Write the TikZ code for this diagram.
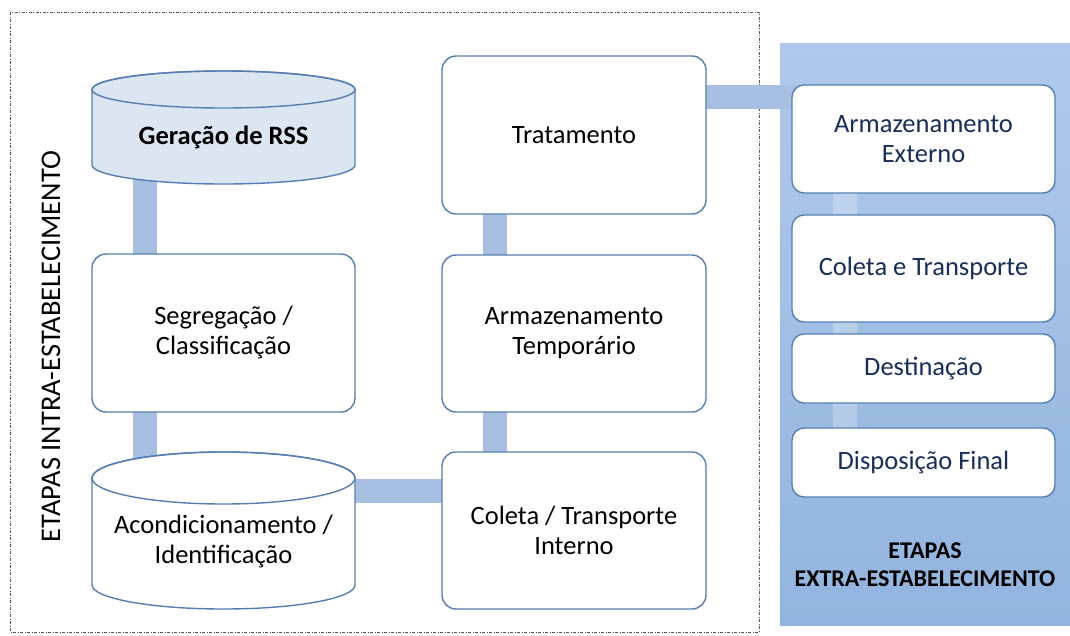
\documentclass[tikz,border=0pt]{standalone}
\usepackage{fontspec}
\setmainfont{Carlito}
\definecolor{boxline}{RGB}{84,126,178}
\definecolor{conncol}{RGB}{167,192,226}
\definecolor{paneltop}{RGB}{176,201,234}
\definecolor{panelbot}{RGB}{146,180,222}
\definecolor{gerfill}{RGB}{220,230,242}
\definecolor{navy}{RGB}{23,45,90}
\definecolor{frame}{RGB}{85,85,85}
\pgfdeclarelayer{panel}
\pgfdeclarelayer{links}
\pgfsetlayers{panel,links,main}
\begin{document}
\begin{tikzpicture}[x=1pt,y=-1pt,
  lbl/.style={align=center, font=\fontsize{26.5}{30}\selectfont, inner sep=0pt},
  box/.style={lbl, draw=boxline, line width=1.4pt, fill=white, rounded corners=14pt},
  rbox/.style={box, text=navy, rounded corners=12pt, minimum width=263pt},
  cylshape/.style={draw=boxline, line width=1.4pt},
  conn/.style={draw=conncol, line width=24pt},
  faint/.style={draw=white, draw opacity=0.25, line width=24pt},
  frameline/.style={draw=frame, line width=0.8pt, dash pattern=on 3pt off 1.5pt on 1pt off 1.5pt},
  title/.style={align=center, font=\fontsize{24}{28}\selectfont\bfseries}
]
\useasboundingbox (0,0) rectangle (1070,635);

% background panel and frame
\begin{pgfonlayer}{panel}
  \fill[top color=paneltop, bottom color=panelbot] (780,43) rectangle (1070,625);
  \draw[frameline] (10,12) rectangle (759,632);
\end{pgfonlayer}

% cylinder: Geracao de RSS
\path[cylshape, fill=gerfill] (92,89.5) -- (92,165)
  arc[start angle=180, end angle=0, x radius=131.5, y radius=19]
  -- (355,89.5)
  arc[start angle=0, end angle=-180, x radius=131.5, y radius=18.5] -- cycle;
\draw[cylshape] (223.5,89.5) ellipse[x radius=131.5, y radius=18.5];
\node[lbl, font=\fontsize{26.5}{30}\selectfont\bfseries] (ger) at (223.5,137) {Geração de RSS};

% cylinder: Acondicionamento
\path[cylshape, fill=white] (92,478) -- (92,585)
  arc[start angle=180, end angle=0, x radius=131.5, y radius=24]
  -- (355,478)
  arc[start angle=0, end angle=-180, x radius=131.5, y radius=26] -- cycle;
\draw[cylshape] (223.5,478) ellipse[x radius=131.5, y radius=26];
\node[lbl] (acd) at (223.5,542) {Acondicionamento /\\Identificação};

% left column boxes
\node[box, minimum width=263pt, minimum height=158pt] (seg) at (223.5,333) {Segregação /\\Classificação};

% middle column boxes
\node[box, minimum width=264pt, minimum height=158pt] (trat) at (574,135) {Tratamento};
\node[box, minimum width=264pt, minimum height=157pt] (armt) at (574,333.5) {Armazenamento\\Temporário};
\node[box, minimum width=264pt, minimum height=157pt] (colt) at (574,530.5) {Coleta / Transporte\\Interno};

% right panel boxes
\node[rbox, minimum height=108pt] (arme) at (923.5,139) {Armazenamento\\Externo};
\node[rbox, minimum height=107pt] (colet) at (923.5,268.5) {Coleta e Transporte};
\node[rbox, minimum height=69pt] (dest) at (923.5,368.5) {Destinação};
\node[rbox, minimum height=69pt] (disp) at (923.5,462.5) {Disposição Final};

% titles
\node[lbl, rotate=90, font=\fontsize{28.5}{30}\selectfont] (intra) at (51,346.5) {ETAPAS INTRA-ESTABELECIMENTO};
\node[title] (extra) at (925,565) {ETAPAS\\EXTRA-ESTABELECIMENTO};

% connector guide coordinates
\coordinate (xL) at (145,0);
\coordinate (xM) at (495,0);
\coordinate (xR) at (845,0);
\coordinate (yA) at (0,491);
\coordinate (yT) at (0,97);

\begin{pgfonlayer}{links}
  \draw[conn] (ger.center -| xL) -- (seg.center -| xL);
  \draw[conn] (seg.center -| xL) -- (acd.center -| xL);
  \draw[conn] (acd.center |- yA) -- (colt.center |- yA);
  \draw[conn] (colt.center -| xM) -- (armt.center -| xM);
  \draw[conn] (armt.center -| xM) -- (trat.center -| xM);
  \draw[conn] (trat.center |- yT) -- (arme.center |- yT);
  \draw[faint] (arme.center -| xR) -- (colet.center -| xR);
  \draw[faint] (colet.center -| xR) -- (dest.center -| xR);
  \draw[faint] (dest.center -| xR) -- (disp.center -| xR);
\end{pgfonlayer}
\end{tikzpicture}
\end{document}
